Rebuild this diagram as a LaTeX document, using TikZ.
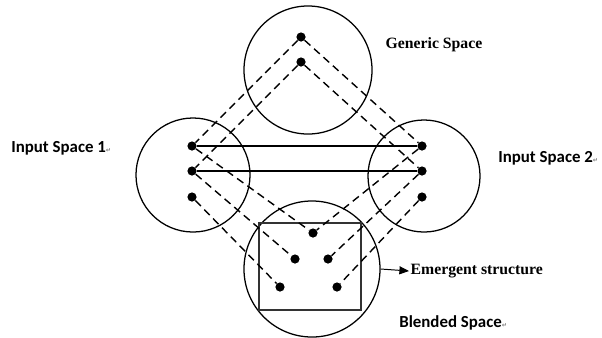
\documentclass[tikz,border=0pt]{standalone}
\usepackage{fontspec}
\setmainfont{Liberation Serif}
\newfontfamily\spacefont{Carlito}
\newfontfamily\markfont{DejaVu Sans}
\usetikzlibrary{arrows.meta}
\newcommand{\retmark}{{\markfont\fontsize{4.5}{5}\selectfont\textcolor{gray}{↵}}}

\begin{document}
\begin{tikzpicture}[x=0.025cm, y=-0.025cm,
  space/.style={draw, circle, line width=0.9pt, inner sep=0pt},
  pt/.style={fill, circle, inner sep=0pt, minimum size=2.3mm},
  map/.style={line width=1pt, dash pattern=on 5.5pt off 3.5pt},
  link/.style={line width=1.1pt},
  serifbf/.style={font=\bfseries\fontsize{11.2}{13}\selectfont},
  sansbf/.style={font=\spacefont\bfseries\fontsize{12}{15}\selectfont, inner sep=0pt}]
\useasboundingbox (0,0) rectangle (602,337);
% the four mental spaces
\node[space, minimum size=3.2cm] (generic) at (308,70) {};
\node[space, minimum size=2.85cm] (input1) at (193,175) {};
\node[space, minimum size=2.8cm] (input2) at (424,176) {};
\node[space, minimum size=3.4cm] (blended) at (312,269) {};
% emergent structure box inside the blend
\node[draw, black!80, line width=0.8pt, minimum width=2.55cm, minimum height=2.175cm, inner sep=0pt] (emerg) at (310,266.5) {};
% elements
\node[pt] (g1) at (301,37) {};
\node[pt] (g2) at (301,62) {};
\node[pt] (a1) at (192,146) {};
\node[pt] (a2) at (192,171) {};
\node[pt] (a3) at (192,197) {};
\node[pt] (b1) at (422,146) {};
\node[pt] (b2) at (422,171) {};
\node[pt] (b3) at (422,197) {};
\node[pt] (c1) at (313,233) {};
\node[pt] (c2) at (295,259) {};
\node[pt] (c3) at (328,259) {};
\node[pt] (c4) at (280,287) {};
\node[pt] (c5) at (337,287) {};
% cross-space counterparts
\draw[link] (a1) -- (b1);
\draw[link] (a2) -- (b2);
% projections between spaces
\foreach \s/\t in {g1/a1, g1/b1, g2/a2, g2/b2, a1/c1, a2/c2, a3/c4, b1/c1, b2/c3, b3/c5}
  \draw[map] (\s) -- (\t);
% labels
\node[serifbf] (genlabel) at (434,45) {Generic Space};
\node[sansbf, anchor=west] (in1label) at (11,148) {Input Space 1\retmark};
\node[sansbf, anchor=west] (in2label) at (498,158) {Input Space 2\retmark};
\node[sansbf, anchor=west] (blendlabel) at (399,323) {Blended Space\retmark};
\node[serifbf, anchor=west, inner sep=1pt] (emlabel) at (409,271) {Emergent structure};
\draw[line width=0.7pt, -{Triangle[length=2.4mm, width=2mm]}] (blended.east) -- (emlabel.west);
\end{tikzpicture}
\end{document}
